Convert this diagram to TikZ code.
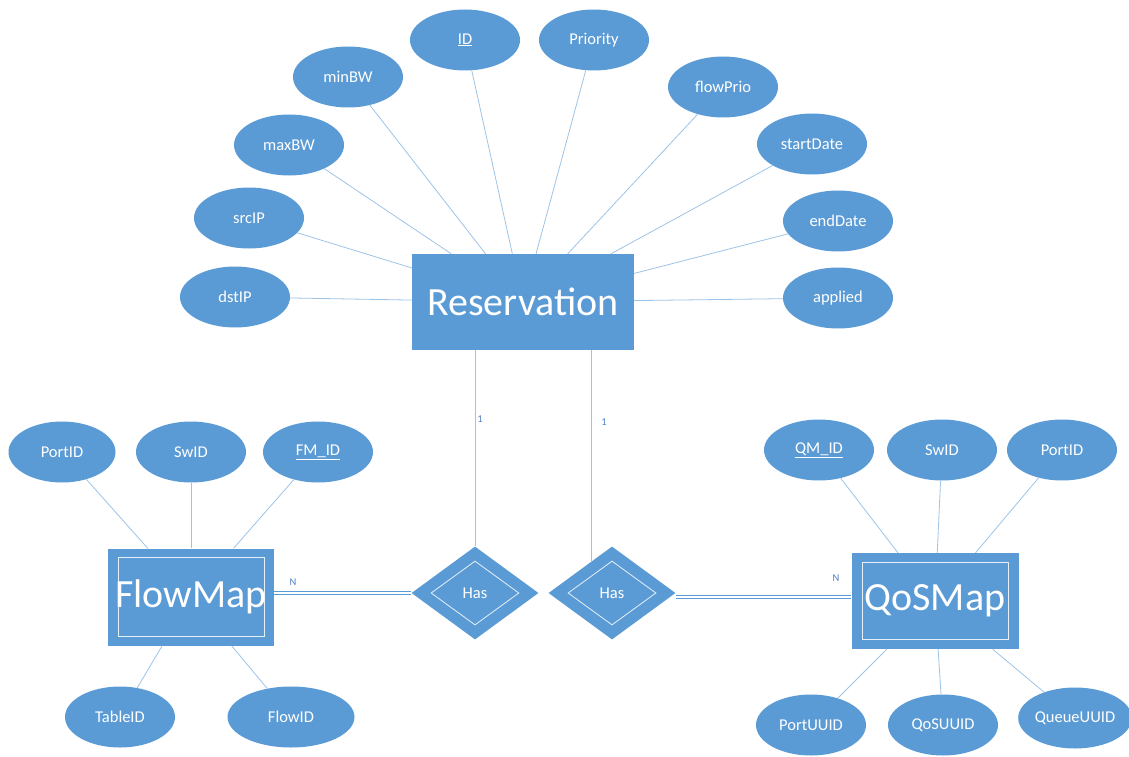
\documentclass[tikz,border=0pt]{standalone}
\usepackage{fontspec}
\setmainfont{Carlito}
\usetikzlibrary{shapes.geometric,calc}
\definecolor{erblue}{HTML}{5B9BD5}
\definecolor{erline}{HTML}{9DC3E6}
\definecolor{erlabel}{HTML}{4F7FC4}

\begin{document}
\begin{tikzpicture}[x=1pt,y=-1pt,
  attr/.style={ellipse, fill=erblue, text=white, minimum width=110pt,
    minimum height=61pt, inner sep=0pt, font=\fontsize{16.5}{18}\selectfont},
  entity/.style={rectangle, fill=erblue, text=white, inner sep=0pt,
    font=\fontsize{40}{44}\selectfont},
  bigtext/.style={text=white, font=\fontsize{40}{44}\selectfont, inner sep=0pt},
  frame/.style={rectangle, draw=white!85!erblue, line width=0.8pt, inner sep=0pt},
  relation/.style={diamond, fill=erblue, text=white, inner sep=0pt,
    minimum width=127pt, minimum height=93pt},
  relframe/.style={diamond, draw=white!85!erblue, line width=0.8pt, inner sep=0pt,
    minimum width=88pt, minimum height=64pt},
  reltext/.style={text=white, font=\fontsize{16.5}{18}\selectfont},
  link/.style={draw=erline, line width=0.8pt},
  dbl/.style={draw=erblue, line width=1.3pt, double=white, double distance=1.4pt},
  card/.style={text=erlabel, font=\fontsize{10.5}{12}\selectfont, inner sep=0pt}
]
\useasboundingbox (0,0) rectangle (1129,757);

% central entity
\node[entity, minimum width=222pt, minimum height=96pt] (res) at (523,302) {Reservation};

% attributes of Reservation
\node[attr] (id)    at (465,40)  {\underline{ID}};
\node[attr] (prio)  at (594,40)  {Priority};
\node[attr] (minbw) at (348,77)  {minBW};
\node[attr] (fprio) at (723,87)  {flowPrio};
\node[attr] (maxbw) at (289,145) {maxBW};
\node[attr] (sdate) at (812,144) {startDate};
\node[attr] (srcip) at (249,218) {srcIP};
\node[attr] (edate) at (838,221) {endDate};
\node[attr] (dstip) at (235,297) {dstIP};
\node[attr] (appl)  at (838,298) {applied};

\foreach \a in {id,prio,minbw,fprio,maxbw,sdate,srcip,edate,dstip,appl}
  \draw[link] (\a) -- (res);

% weak entities
\node[entity, minimum width=166pt, minimum height=97pt] (fm) at (191,597) {};
\node[frame, minimum width=146pt, minimum height=79pt] (fmf) at (fm.center) {};
\node[bigtext] (fmt) at (fm.center) {FlowMap};

\node[entity, minimum width=167pt, minimum height=96pt] (qos) at (935,601) {};
\node[frame, minimum width=146pt, minimum height=77pt] (qosf) at (qos.center) {};
\node[bigtext] (qost) at (qos.center) {QoSMap};

% identifying relationships
\node[relation] (has1) at (475,593) {};
\node[relframe] (has1f) at (has1.center) {};
\node[reltext] (has1t) at (has1.center) {Has};

\node[relation] (has2) at (612,593) {};
\node[relframe] (has2f) at (has2.center) {};
\node[reltext] (has2t) at (has2.center) {Has};

% Reservation to the relationships
\coordinate (r1) at (has1.north);
\draw[link] (res.south -| r1) -- (r1);
\coordinate (r2) at ($(has2.north)!0.33!(has2.west)$);
\draw[link] (res.south -| r2) -- (r2);
\node[card] (c1) at (480,419) {1};
\node[card] (c2) at (604,422) {1};

% total participation of the weak entities
\draw[dbl] (has1.west) -- (has1.west -| fm.east);
\coordinate (q2) at ([yshift=-4pt]has2.east);
\draw[dbl] (q2) -- (q2 -| qos.west);
\node[card] (n1) at (293,582) {N};
\node[card] (n2) at (836,578) {N};

% attributes of FlowMap
\node[attr, minimum width=107pt] (fport) at (62,452)  {PortID};
\node[attr] (fsw)   at (191,452) {SwID};
\node[attr] (fmid)  at (318,452) {\underline{FM\_ID}};
\node[attr] (ftab)  at (120,717) {TableID};
\node[attr, minimum width=127pt] (fflow) at (291,717) {FlowID};
\foreach \a in {fport,fsw,fmid,ftab,fflow}
  \draw[link] (\a) -- (fm);

% attributes of QoSMap
\node[attr] (qmid)  at (819,450)  {\underline{QM\_ID}};
\node[attr] (qsw)   at (942,450)  {SwID};
\node[attr] (qport) at (1062,450) {PortID};
\node[attr] (qpu)   at (811,725)  {PortUUID};
\node[attr] (qqu)   at (943,725)  {QoSUUID};
\node[attr] (qqueu) at (1075,718) {QueueUUID};
\foreach \a in {qmid,qsw,qport,qpu,qqu,qqueu}
  \draw[link] (\a) -- (qos);

\end{tikzpicture}
\end{document}
